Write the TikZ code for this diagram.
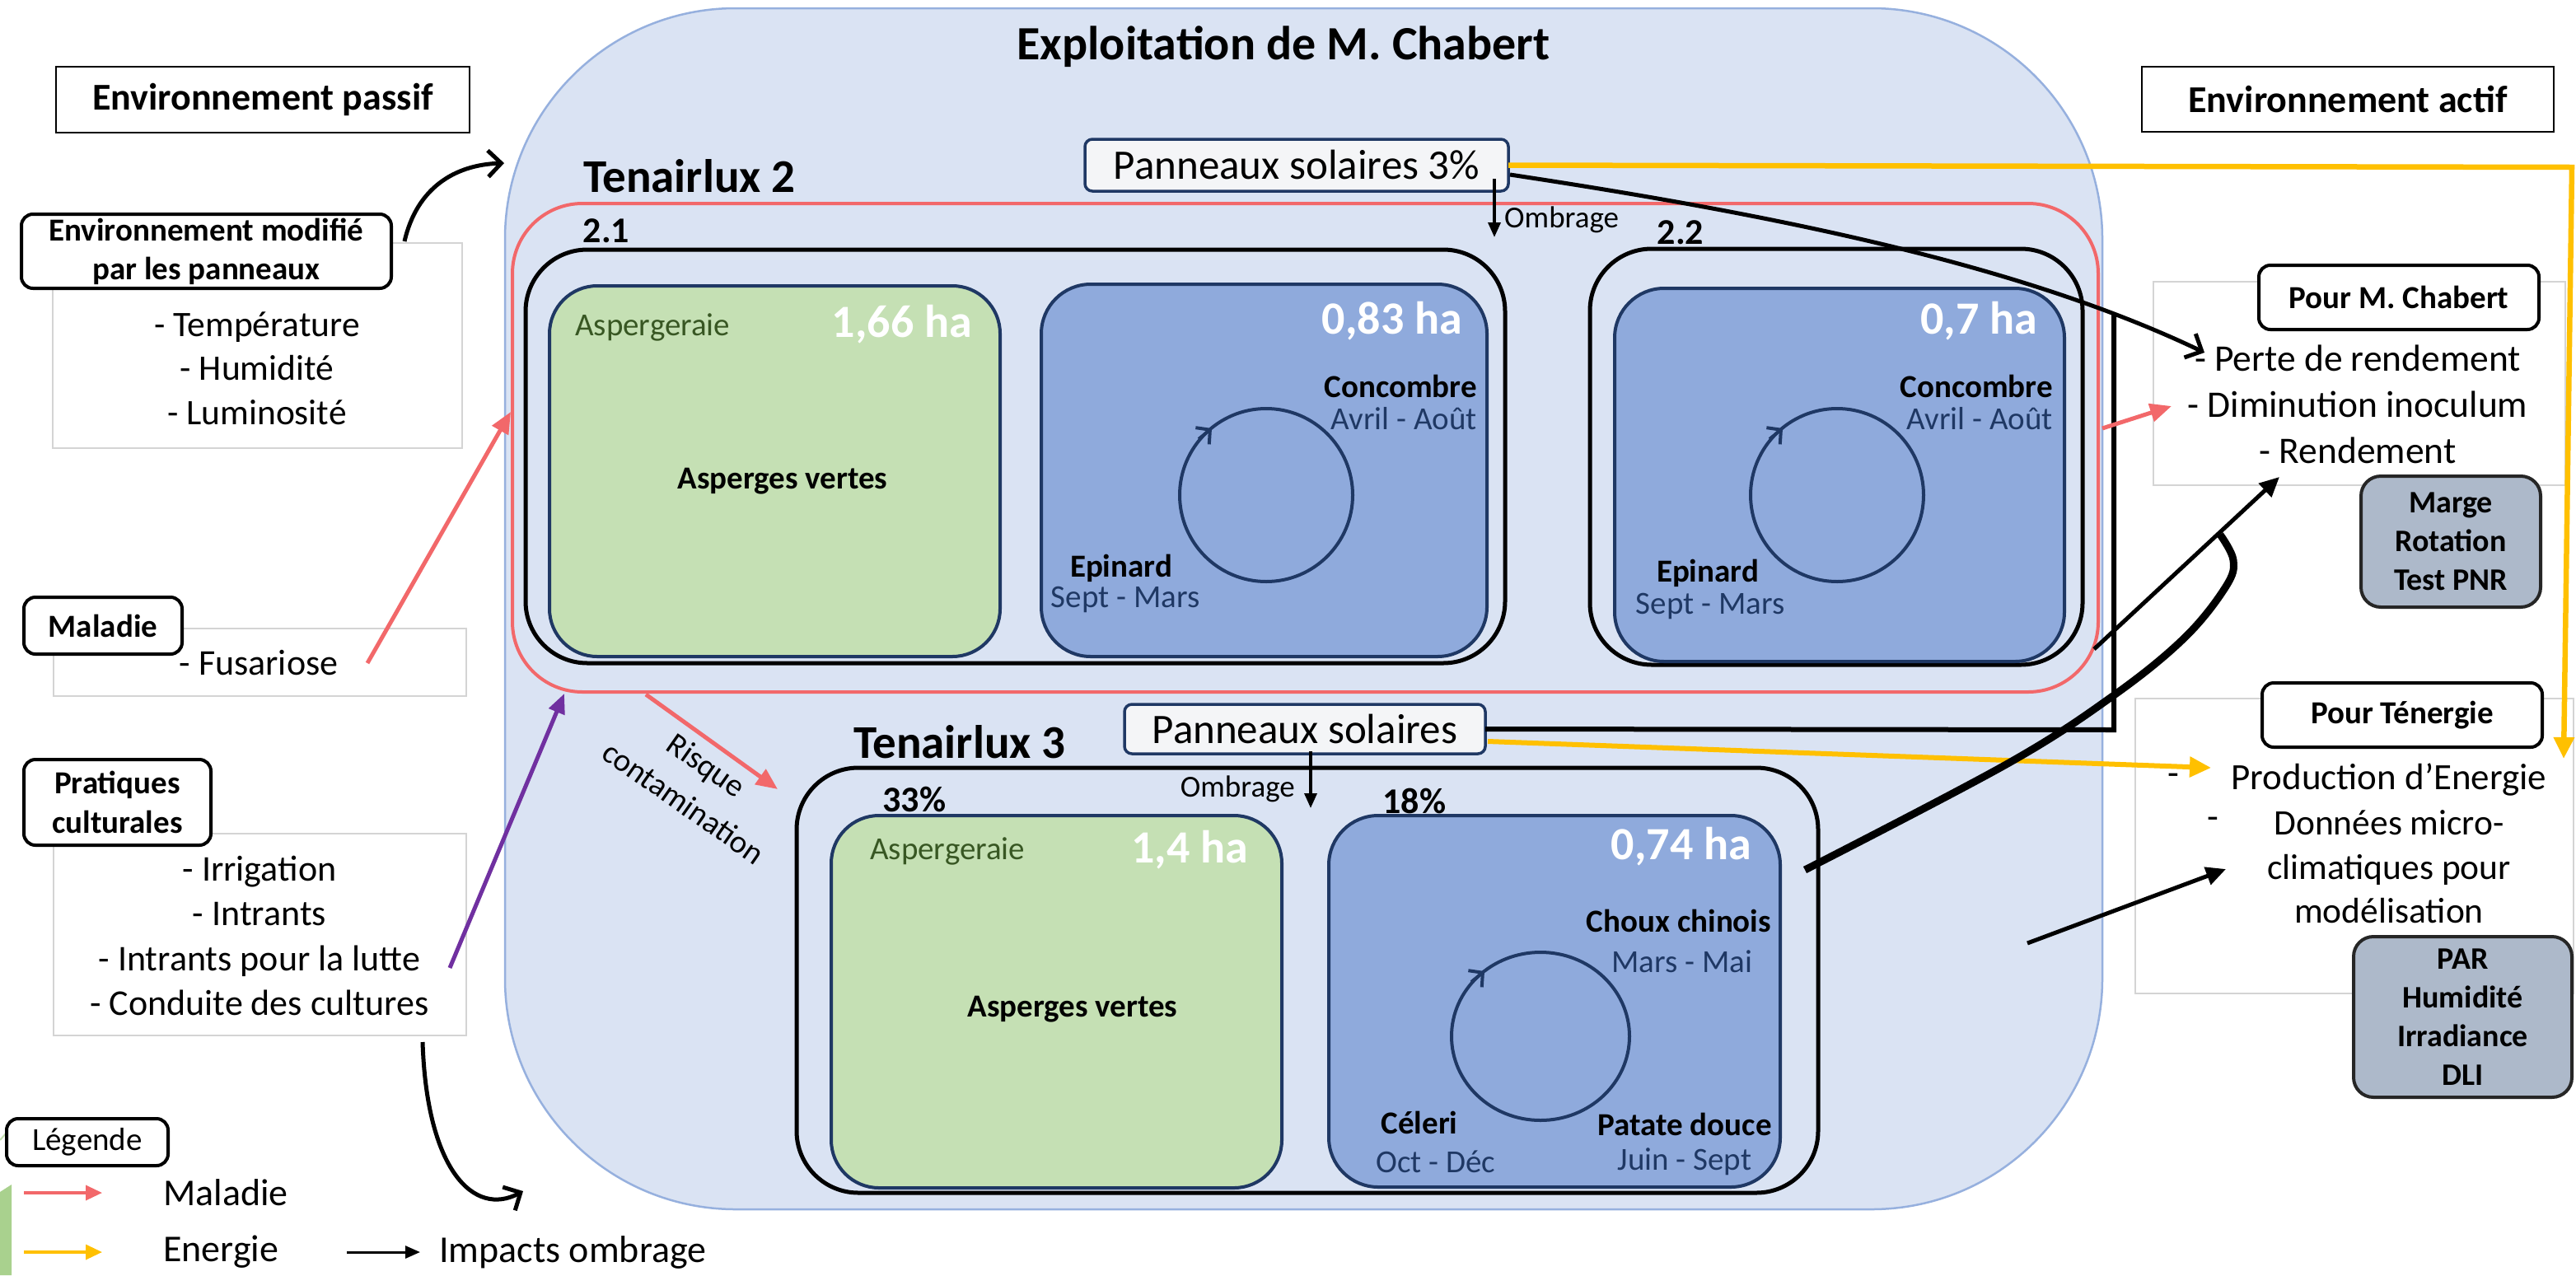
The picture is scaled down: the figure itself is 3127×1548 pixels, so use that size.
\documentclass[tikz,border=0pt]{standalone}
\usepackage{fontspec}
\setmainfont{Carlito}
\usetikzlibrary{arrows.meta,intersections}
\definecolor{farmfill}{RGB}{218,227,243}
\definecolor{farmdraw}{RGB}{150,176,222}
\definecolor{cropgreen}{RGB}{197,224,180}
\definecolor{cropblue}{RGB}{143,170,220}
\definecolor{navy}{RGB}{31,56,100}
\definecolor{redc}{RGB}{242,104,106}
\definecolor{yellowc}{RGB}{255,192,0}
\definecolor{purplec}{RGB}{112,48,160}
\definecolor{graybox}{RGB}{173,185,202}
\definecolor{lgray}{RGB}{212,212,212}
\definecolor{dgreen}{RGB}{56,87,35}
\definecolor{panfill}{RGB}{244,245,247}
\definecolor{leaf}{RGB}{169,209,142}
\newcommand{\fsz}[2]{\fontsize{#1pt}{#2pt}\selectfont}
\begin{document}
\begin{tikzpicture}[x=1pt,y=-1pt,
  bx/.style={inner sep=0pt, outer sep=0pt},
  lblst/.style={bx, draw=black, line width=4pt, fill=white, rounded corners=14pt, align=center, font=\fsz{39}{48}\bfseries},
  lstst/.style={bx, draw=lgray, line width=1.5pt, fill=white},
  lsttxt/.style={inner sep=0pt, align=center, font=\fsz{44}{54.3}},
  resst/.style={bx, draw=black!85, line width=4pt, fill=graybox, rounded corners=24pt, align=center, font=\fsz{38}{47}\bfseries},
  grpst/.style={bx, draw=black, line width=5pt, rounded corners=75pt},
  cropst/.style={bx, draw=navy, line width=4pt, rounded corners=60pt},
  panst/.style={bx, draw=navy, line width=3.5pt, fill=panfill, rounded corners=9pt, font=\fsz{51}{63}},
  hast/.style={inner sep=0pt, anchor=east, text=white, font=\fsz{56}{69}\bfseries},
  aspst/.style={inner sep=0pt, anchor=west, text=dgreen, font=\fsz{39}{48}},
  cnamest/.style={inner sep=0pt, font=\fsz{39}{48}\bfseries},
  cdatest/.style={inner sep=0pt, text=navy, font=\fsz{39}{48}},
  pctst/.style={inner sep=0pt, font=\fsz{44}{54}\bfseries},
  tlst/.style={inner sep=0pt, anchor=base west, font=\fsz{57}{70}\bfseries},
  cycst/.style={draw=navy, line width=4pt},
  cyctipst/.style={draw=navy, line width=4pt, -{Straight Barb[length=12pt,width=26pt]}},
  barbst/.style={draw=black, line width=5pt, -{Straight Barb[length=16pt,width=32pt]}},
  blkst/.style={draw=black, line width=5pt, -{Triangle[length=24pt,width=22pt]}},
  ombst/.style={draw=black, line width=3.5pt, -{Triangle[length=18pt,width=15pt]}},
  redst/.style={draw=redc, line width=5pt, -{Triangle[length=26pt,width=22pt]}},
  yelst/.style={draw=yellowc, line width=6.5pt, -{Triangle[length=26pt,width=24pt]}},
  legtxt/.style={inner sep=0pt, anchor=west, font=\fsz{46}{57}},
  rotst/.style={inner sep=0pt, rotate=-35, font=\fsz{39}{48}},
]
\fill[white] (0,0) rectangle (3127,1548);
\useasboundingbox (0,0) rectangle (3127,1548);
% slide decoration
\fill[leaf] (0,1447) -- (14,1438) -- (14,1548) -- (0,1548) -- cycle;
\draw[leaf!70, line width=2pt] (0,1384) -- (14,1368);

% ===== farm =====
\node[bx, draw=farmdraw, line width=2.5pt, fill=farmfill, rounded corners=280pt, minimum width=1939pt, minimum height=1458pt] (farm) at (1582.5,739) {};
\node[inner sep=0pt, anchor=base, font=\fsz{58}{70}\bfseries] (title) at (1558,72) {Exploitation de M. Chabert};

% Tenairlux 2
\node[bx, draw=redc, line width=4pt, rounded corners=85pt, minimum width=1925pt, minimum height=593pt] (tl2) at (1584.5,543.5) {};
\node[tlst] (tl2t) at (708,233) {Tenairlux 2};
\node[grpst, minimum width=1189pt, minimum height=502pt] (b21) at (1232.5,554) {};
\node[grpst, minimum width=598pt, minimum height=505pt] (b22) at (2229,554.5) {};
\node[pctst] (n21) at (736,280) {2.1};
\node[pctst] (n22) at (2040,282) {2.2};
\node[cropst, fill=cropgreen, rounded corners=58pt, minimum width=547pt, minimum height=450pt] (g21) at (940.5,572) {};
\node[cropst, fill=cropblue, minimum width=541pt, minimum height=452pt] (bl21) at (1534.5,571) {};
\node[cropst, fill=cropblue, minimum width=546pt, minimum height=453pt] (bl22) at (2233,576.5) {};
\node[aspst] (asp21) at (698,397) {Aspergeraie};
\node[hast] (ha21) at (1180,394) {1,66 ha};
\node[cnamest] (av21) at (950,584) {Asperges vertes};
\node[hast] (ha21b) at (1775,390) {0,83 ha};
\node[cnamest, anchor=east] (co21) at (1793,469) {Concombre};
\node[cdatest, anchor=east] (co21d) at (1793,508) {Avril - Août};
\node[cnamest] (ep21) at (1361,690) {Epinard};
\node[cdatest] (ep21d) at (1366,728) {Sept - Mars};
\coordinate (c21) at (1537,601);
\draw[cycst] (c21) circle [radius=105pt];
\draw[cyctipst] (1455,533) -- (1471,520);
\node[hast] (ha22) at (2473,390) {0,7 ha};
\node[cnamest, anchor=east] (co22) at (2492,469) {Concombre};
\node[cdatest, anchor=east] (co22d) at (2492,508) {Avril - Août};
\node[cnamest] (ep22) at (2073,696) {Epinard};
\node[cdatest] (ep22d) at (2076,736) {Sept - Mars};
\coordinate (c22) at (2230,601);
\draw[cycst] (c22) circle [radius=105pt];
\draw[cyctipst] (2148,533) -- (2164,520);

% Tenairlux 3
\node[tlst] (tl3t) at (1036,920) {Tenairlux 3};
\node[grpst, minimum width=1240pt, minimum height=516pt] (b3) at (1587,1190) {};
\node[pctst] (p33) at (1110,971) {33\%};
\node[pctst] (p18) at (1717,972) {18\%};
\node[cropst, fill=cropgreen, rounded corners=58pt, minimum width=547pt, minimum height=452pt] (g3) at (1282.5,1216) {};
\node[cropst, fill=cropblue, minimum width=548pt, minimum height=451pt] (bl3) at (1887,1215.5) {};
\node[aspst] (asp3) at (1056,1033) {Aspergeraie};
\node[hast] (ha3) at (1515,1032) {1,4 ha};
\node[cnamest] (av3) at (1302,1225) {Asperges vertes};
\node[hast] (ha3b) at (2126,1028) {0,74 ha};
\node[cnamest] (cc) at (2038,1118) {Choux chinois};
\node[cdatest] (ccd) at (2042,1167) {Mars - Mai};
\node[cnamest] (cel) at (1723,1363) {Céleri};
\node[cdatest] (celd) at (1743,1410) {Oct - Déc};
\node[cnamest] (pat) at (2045,1365) {Patate douce};
\node[cdatest] (patd) at (2045,1410) {Juin - Sept};
\coordinate (c3) at (1870,1258);
\draw[cycst] (c3) ellipse [x radius=108pt, y radius=102pt];
\draw[cyctipst] (1786,1192) -- (1802,1179);

% solar panels
\node[panst, minimum width=514pt, minimum height=63pt] (ps2) at (1574,200.5) {Panneaux solaires 3\%};
\node[panst, minimum width=438pt, minimum height=60pt] (ps3) at (1584,885) {Panneaux solaires};

% ===== left: passive environment =====
\node[bx, draw=black, line width=2.5pt, fill=white, minimum width=502pt, minimum height=80pt, font=\fsz{46}{57}\bfseries] (envp) at (319,121) {Environnement passif};
\node[lstst, minimum width=497pt, minimum height=249pt] (gmod) at (312.5,419.5) {};
\node[lsttxt, font=\fsz{43.5}{53.5}] (tmod) at (312,447) {- Température\\- Humidité\\- Luminosité};
\node[lblst, minimum width=449pt, minimum height=90pt, font=\fsz{39}{47}\bfseries] (lmod) at (250.5,305) {Environnement modifié\\par les panneaux};
\node[lstst, minimum width=501pt, minimum height=82pt] (gmal) at (315.5,804) {};
\node[lsttxt] (tfus) at (314,805) {- Fusariose};
\node[lblst, minimum width=192pt, minimum height=69pt] (lmal) at (125,759.5) {Maladie};
\node[lstst, minimum width=501pt, minimum height=245pt] (gprat) at (315.5,1134.5) {};
\node[lsttxt] (tprat) at (315,1136) {- Irrigation\\- Intrants\\- Intrants pour la lutte\\- Conduite des cultures};
\node[lblst, minimum width=227pt, minimum height=104pt] (lprat) at (142.5,974) {Pratiques\\culturales};

% ===== right: active environment =====
\node[bx, draw=black, line width=2.5pt, fill=white, minimum width=500pt, minimum height=79pt, font=\fsz{46}{57}\bfseries] (enva) at (2850,120.5) {Environnement actif};
\node[lstst, minimum width=500pt, minimum height=247pt] (gchab) at (2864,465.5) {};
\node[lsttxt, font=\fsz{45.5}{56}] (tchab) at (2862,491) {- Perte de rendement\\- Diminution inoculum\\- Rendement};
\node[lblst, minimum width=340pt, minimum height=78pt] (lchab) at (2912,361) {Pour M. Chabert};
\node[resst, minimum width=218pt, minimum height=159pt] (marge) at (2975,657.5) {Marge\\Rotation\\Test PNR};
\node[lstst, minimum width=532pt, minimum height=358pt] (gten) at (2858,1027) {};
\node[lsttxt, font=\fsz{45}{55}] (dash1) at (2638,946) {-};
\node[lsttxt, font=\fsz{45}{55}] (prod) at (2900,946) {Production d’Energie};
\node[lsttxt, font=\fsz{45}{55}] (dash2) at (2686,999) {-};
\node[lsttxt, font=\fsz{43.5}{53.5}] (donn) at (2900,1052.5) {Données micro-\\climatiques pour\\modélisation};
\node[lblst, minimum width=340pt, minimum height=78pt] (lten) at (2916,868) {Pour Ténergie};
\node[resst, minimum width=265pt, minimum height=195pt] (par) at (2989.5,1234.5) {PAR\\Humidité\\Irradiance\\DLI};

% ===== legend =====
\node[lblst, minimum width=196pt, minimum height=57pt, font=\fsz{39}{48}] (leg) at (106,1386.5) {Légende};
\coordinate (lr1) at (29,1448); \coordinate (lr2) at (124,1448);
\coordinate (ly1) at (29,1520); \coordinate (ly2) at (124,1520);
\coordinate (lb1) at (421,1520); \coordinate (lb2) at (510,1520);
\draw[redst, line width=3.5pt, -{Triangle[length=20pt,width=18pt]}] (lr1) -- (lr2);
\draw[yelst, line width=3.5pt, -{Triangle[length=20pt,width=18pt]}] (ly1) -- (ly2);
\draw[black, line width=3pt, -{Triangle[length=18pt,width=15pt]}] (lb1) -- (lb2);
\node[legtxt] (lgm) at (198,1448) {Maladie};
\node[legtxt] (lge) at (198,1520) {Energie};
\node[legtxt] (lgi) at (533,1520) {Impacts ombrage};

% ===== connectors =====
\coordinate (modS) at (491,293); \coordinate (modE) at (612,198);
\draw[barbst] (modS) .. controls (506,228) and (552,200) .. (modE);
\coordinate (pratS) at (513,1265); \coordinate (pratE) at (635,1446);
\draw[barbst] (pratS) .. controls (518,1420) and (575,1478) .. (pratE);
\coordinate (fusS) at (446,805); \coordinate (fusE) at (620,500);
\draw[redst] (fusS) -- (fusE);
\coordinate (purS) at (546,1175); \coordinate (purE) at (685,842);
\draw[draw=purplec, line width=5pt, -{Triangle[length=24pt,width=20pt]}] (purS) -- (purE);
\coordinate (rskS) at (784,843); \coordinate (rskE) at (944,958);
\draw[redst] (rskS) -- (rskE);
\node[rotst] (risk1) at (856,931) {Risque};
\node[rotst] (risk2) at (830,974) {contamination};

% ombrage
\coordinate (om2S) at (1814,217); \coordinate (om2E) at (1814,288);
\draw[ombst] (om2S) -- (om2E);
\node[inner sep=0pt, anchor=west, font=\fsz{37}{45}] (om2t) at (1826,267) {Ombrage};
\coordinate (om3S) at (1591,912); \coordinate (om3E) at (1591,981);
\draw[ombst] (om3S) -- (om3E);
\node[inner sep=0pt, anchor=east, font=\fsz{37}{45}] (om3t) at (1572,958) {Ombrage};

% energy
\coordinate (yc1) at (3122,203); \coordinate (yc2) at (3112,921);
\draw[yelst] (ps2.east) -- (yc1) -- (yc2);
\coordinate (y3S) at (1806,900); \coordinate (y3E) at (2684,932);
\draw[yelst, line width=6pt] (y3S) -- (y3E);

% shading impacts
\coordinate (pS) at (1833,212); \coordinate (pE) at (2676,428);
\path[name path=pcurve] (pS) .. controls (2150,260) and (2450,320) .. (pE);
\draw[barbst] (pS) .. controls (2150,260) and (2450,320) .. (pE);
\coordinate (rc) at (2566,886);
\path[name path=vline] (rc) -- (2566,250);
\path[name intersections={of=pcurve and vline, by=vx}];
\draw[black, line width=6pt, line join=miter] (ps3.east) -- (rc) -- (vx);

\coordinate (dimS) at (2552,520); \coordinate (dimE) at (2636,493);
\draw[redst] (dimS) -- (dimE);
\coordinate (renS) at (2542,788); \coordinate (renE) at (2767,579);
\draw[blkst] (renS) -- (renE);
\coordinate (brS) at (2191,1056); \coordinate (brE) at (2695,649);
\draw[black, line width=9pt] plot[smooth, tension=0.6] coordinates {(brS) (2437,927) (2566,844) (2652,774) (2702,712) (2711,680) (brE)};
\coordinate (donS) at (2461,1145); \coordinate (donE) at (2702,1055);
\draw[blkst] (donS) -- (donE);
\end{tikzpicture}
\end{document}
